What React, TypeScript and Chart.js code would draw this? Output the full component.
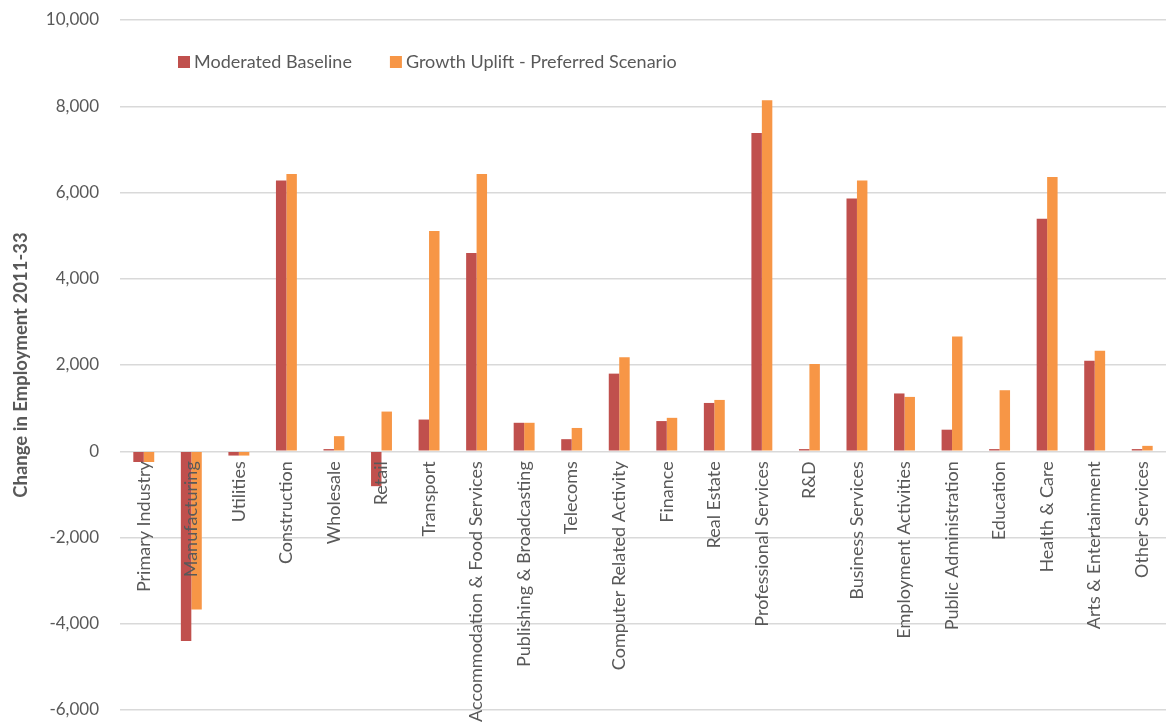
import React, { useEffect, useRef } from "react";
import { Chart, registerables } from "chart.js";

Chart.register(...registerables);

const categories = [
  "Primary Industry",
  "Manufacturing",
  "Utilities",
  "Construction",
  "Wholesale",
  "Retail",
  "Transport",
  "Accommodation & Food Services",
  "Publishing & Broadcasting",
  "Telecoms",
  "Computer Related Activity",
  "Finance",
  "Real Estate",
  "Professional Services",
  "R&D",
  "Business Services",
  "Employment Activities",
  "Public Administration",
  "Education",
  "Health & Care",
  "Arts & Entertainment",
  "Other Services",
];

const moderatedBaseline = [
  -250, -4400, -100, 6280, 50, -810, 735, 4600, 660, 280, 1800, 700, 1120,
  7380, 50, 5860, 1340, 500, 50, 5390, 2100, 50,
];

const growthUplift = [
  -250, -3670, -100, 6430, 350, 920, 5110, 6430, 660, 540, 2180, 775, 1190,
  8140, 2025, 6280, 1260, 2660, 1415, 6360, 2330, 125,
];

const yTicks = { min: -6000, max: 10000, step: 2000 };

const FONT = "Lato, 'Open Sans', sans-serif";
const TEXT = "#595959";

// Category names hang below the zero line, reading upwards, painted over the bars.
const zeroLineLabels = {
  id: "zeroLineLabels",
  afterDatasetsDraw(chart: Chart) {
    const { ctx } = chart;
    const xs = chart.scales.x;
    const ys = chart.scales.y;
    const y0 = ys.getPixelForValue(0) + 10;
    ctx.save();
    ctx.font = `18px ${FONT}`;
    ctx.fillStyle = TEXT;
    ctx.textAlign = "right";
    ctx.textBaseline = "middle";
    (chart.data.labels as string[]).forEach((label, i) => {
      const x = xs.getPixelForValue(i);
      ctx.save();
      ctx.translate(x, y0);
      ctx.rotate(-Math.PI / 2);
      ctx.fillText(label, 0, 0);
      ctx.restore();
    });
    ctx.restore();
  },
};

// Legend drawn inside the plot area, near its top-left corner.
const insideLegend = {
  id: "insideLegend",
  afterDraw(chart: Chart) {
    const { ctx, chartArea } = chart;
    const x0 = chartArea.left + 58;
    const y0 = chartArea.top + 42;
    ctx.save();
    ctx.font = `18px ${FONT}`;
    ctx.textBaseline = "middle";
    ctx.textAlign = "left";
    let x = x0;
    chart.data.datasets.forEach((ds: any) => {
      ctx.fillStyle = ds.backgroundColor;
      ctx.fillRect(x, y0 - 6, 12, 12);
      ctx.fillStyle = TEXT;
      ctx.fillText(ds.label, x + 16, y0);
      x += 16 + ctx.measureText(ds.label).width + 38;
    });
    ctx.restore();
  },
};

export default function App() {
  const canvasRef = useRef<HTMLCanvasElement>(null);

  useEffect(() => {
    if (!canvasRef.current) return;
    const chart = new Chart(canvasRef.current, {
      type: "bar",
      data: {
        labels: categories,
        datasets: [
          {
            label: "Moderated Baseline",
            data: moderatedBaseline,
            backgroundColor: "#C0504D",
            categoryPercentage: 0.44,
            barPercentage: 1.0,
          },
          {
            label: "Growth Uplift - Preferred Scenario",
            data: growthUplift,
            backgroundColor: "#F79646",
            categoryPercentage: 0.44,
            barPercentage: 1.0,
          },
        ],
      },
      options: {
        animation: false,
        responsive: false,
        maintainAspectRatio: false,
        layout: { autoPadding: false, padding: { top: 20, bottom: 18, right: 0, left: 10 } },
        plugins: {
          legend: { display: false },
          tooltip: { enabled: false },
        },
        scales: {
          x: {
            display: false,
          },
          y: {
            min: yTicks.min,
            max: yTicks.max,
            afterFit(scale: any) {
              scale.width = 110;
              scale.paddingTop = 0;
              scale.paddingBottom = 0;
            },
            grid: { color: "#D9D9D9", lineWidth: 1.5, drawTicks: false },
            border: { display: false },
            ticks: {
              stepSize: yTicks.step,
              padding: 21,
              color: TEXT,
              font: { family: FONT, size: 17 },
            },
            title: {
              display: true,
              text: "Change in Employment 2011-33",
              color: TEXT,
              font: { family: FONT, size: 18.5, weight: "bold" },
              padding: { top: 0, bottom: 16 },
            },
          },
        },
      },
      plugins: [zeroLineLabels, insideLegend],
    });
    return () => chart.destroy();
  }, []);

  return (
    <div style={{ position: "fixed", left: 0, top: 0, width: 1166, height: 728, background: "#fff" }}>
      <canvas ref={canvasRef} width={1166} height={728} />
    </div>
  );
}
